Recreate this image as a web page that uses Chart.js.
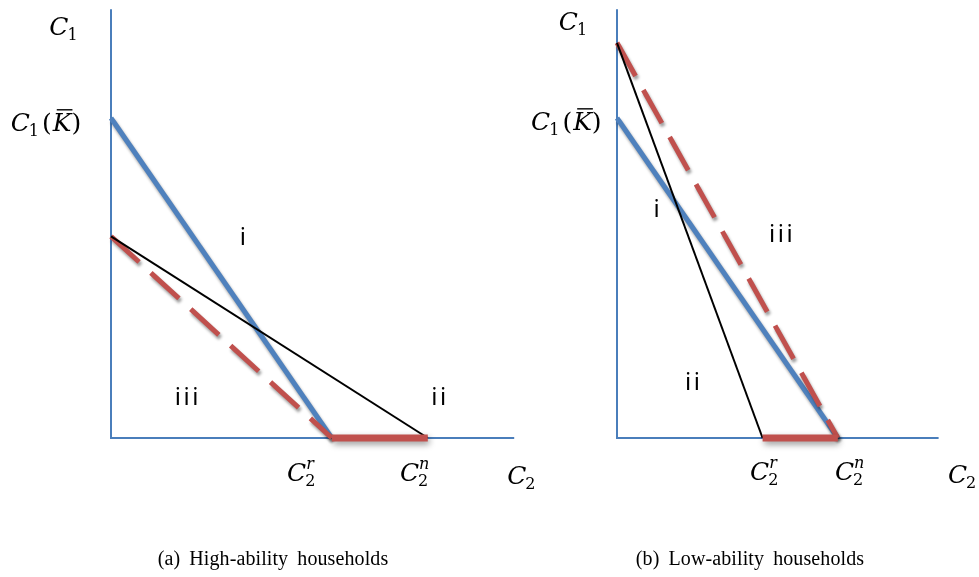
<!DOCTYPE html>
<html><head><meta charset="utf-8">
<script src="https://cdn.jsdelivr.net/npm/chart.js@4/dist/chart.umd.min.js"></script>
<style>
html,body{margin:0;padding:0;background:#fff;}
#wrap{position:relative;width:979px;height:577px;overflow:hidden;background:#fff;}
.pane{position:absolute;top:0;height:577px;}
.cap{position:absolute;top:548px;font-family:"Liberation Serif",serif;font-size:20px;line-height:20px;color:#000;white-space:nowrap;transform:translateX(-50%);word-spacing:4px;letter-spacing:0.1px;}
</style></head>
<body><div id="wrap">
<div class="pane" style="left:0;width:540px"><canvas id="ca" width="540" height="577"></canvas></div>
<div class="pane" style="left:500px;width:479px"><canvas id="cb" width="479" height="577"></canvas></div>
<div class="cap" style="left:273px">(a) High-ability households</div>
<div class="cap" style="left:750px">(b) Low-ability households</div>
</div>
<script>
// ---------- Panel (a): High-ability households ----------
const aAxes   = [{x:0,y:13.4},{x:0,y:0},{x:12.6,y:0}];
const aBlue   = [{x:0,y:10},{x:6.9,y:0}];      // C1(K̄) -> C2^r
const aDashed = [{x:0,y:6.3},{x:6.9,y:0}];
const aBlack  = [{x:0,y:6.3},{x:9.9,y:0}];     // -> C2^n
const aRedBar = [{x:6.9,y:0},{x:9.9,y:0}];     // C2^r .. C2^n

// ---------- Panel (b): Low-ability households ----------
const bAxes   = [{x:0,y:13.4},{x:0,y:0},{x:10.05,y:0}];
const bBlue   = [{x:0,y:10},{x:6.9,y:0}];
const bDashed = [{x:0,y:12.35},{x:6.9,y:0}];   // -> C2^n
const bBlack  = [{x:0,y:12.35},{x:4.55,y:0}];  // -> C2^r
const bRedBar = [{x:4.55,y:0},{x:6.9,y:0}];

// ---------- Label texts ----------
const LBL_C1  = [{t:'C',it:1},{sub:'1'}];
const LBL_C1K = [{t:'C',it:1},{sub:'1'},{t:'('},{t:'K',it:1,bar:1},{t:')'}];
const LBL_C2R = [{t:'C',it:1},{sub:'2',sup:'r'}];
const LBL_C2N = [{t:'C',it:1},{sub:'2',sup:'n'}];
const LBL_C2  = [{t:'C',it:1},{sub:'2'}];
const regionNames = ['i','ii','iii'];

const BLUE='#4F81BD', RED='#C0504D', AXIS='#4A7EBB';
const MAIN='italic 25px "DejaVu Serif"', UP='25px "DejaVu Serif"', SUB='16px "DejaVu Serif"', SUPI='italic 16px "DejaVu Serif"';

function layoutParts(ctx, parts){
  let w=0; const out=[];
  for(const p of parts){
    if(p.t){ ctx.font=p.it?MAIN:UP; const pw=ctx.measureText(p.t).width; out.push({p,dx:w,w:pw}); w+=pw+(p.it?0:1); }
    else { ctx.font=SUB; const sw=p.sub?ctx.measureText(p.sub).width:0; ctx.font=SUPI; const uw=p.sup?ctx.measureText(p.sup).width:0;
      out.push({p,dx:w-1}); w+=Math.max(sw,uw)+2; }
  }
  return {out,w};
}
function drawMath(ctx, parts, x, y, align){
  const L=layoutParts(ctx, parts);
  const x0 = align==='right' ? x-L.w : x;
  ctx.fillStyle='#000'; ctx.strokeStyle='#000'; ctx.textBaseline='alphabetic'; ctx.textAlign='left';
  for(const o of L.out){
    const p=o.p;
    if(p.t){ ctx.font=p.it?MAIN:UP; ctx.fillText(p.t, x0+o.dx, y);
      if(p.bar){ ctx.lineWidth=1.4; ctx.beginPath(); ctx.moveTo(x0+o.dx+4, y-21); ctx.lineTo(x0+o.dx+o.w+1, y-21); ctx.stroke(); } }
    else { if(p.sub){ ctx.font=SUB; ctx.fillText(p.sub, x0+o.dx, y+5); }
      if(p.sup){ ctx.font=SUPI; ctx.fillText(p.sup, x0+o.dx+1, y-12); } }
  }
}
const labelPlugin = {
  id:'mathLabels',
  afterDatasetsDraw(chart, args, opts){
    const ctx=chart.ctx, xs=chart.scales.x, ys=chart.scales.y;
    ctx.save();
    for(const it of (opts.math||[])) drawMath(ctx, it.parts, xs.getPixelForValue(it.x), ys.getPixelForValue(it.y), it.align);
    ctx.font='24px "Noto Sans"'; ctx.fillStyle='#000'; ctx.textAlign='center'; ctx.textBaseline='alphabetic';
    try{ ctx.letterSpacing='2.5px'; }catch(e){}
    for(const r of (opts.regions||[])) ctx.fillText(r.text, xs.getPixelForValue(r.x), ys.getPixelForValue(r.y));
    ctx.restore();
  }
};
const shadowPlugin = {
  id:'shadowPl',
  beforeDatasetDraw(chart,args){ const ds=chart.data.datasets[args.index]; const c=chart.ctx; c.save();
    if(ds.shadow){ c.shadowColor='rgba(0,0,0,0.4)'; c.shadowBlur=ds.shadow; c.shadowOffsetX=1.5; c.shadowOffsetY=3; } },
  afterDatasetDraw(chart){ chart.ctx.restore(); }
};

function makeChart(id, S, xMax, pad, math, regions){
  const base={showLine:true,pointRadius:0,pointHoverRadius:0,fill:false,tension:0,borderCapStyle:'butt',borderJoinStyle:'miter',clip:false};
  return new Chart(document.getElementById(id),{
    type:'scatter',
    data:{datasets:[
      {data:S.red, borderColor:RED, borderWidth:7, shadow:6},
      {data:S.black, borderColor:'#000', borderWidth:2},
      {data:S.dashed, borderColor:RED, borderWidth:5, borderDash:[38,16], shadow:3},
      {data:S.blue, borderColor:BLUE, borderWidth:5, shadow:3},
      {data:S.axes, borderColor:AXIS, borderWidth:2}
    ].map(d=>Object.assign({},base,d))},
    options:{
      responsive:false, animation:false, events:[],
      layout:{padding:pad},
      plugins:{legend:{display:false}, tooltip:{enabled:false}, mathLabels:{math, regions}},
      scales:{x:{type:'linear',min:0,max:xMax,display:false}, y:{type:'linear',min:0,max:13.4,display:false}}
    },
    plugins:[shadowPlugin, labelPlugin]
  });
}

makeChart('ca', {axes:aAxes, blue:aBlue, dashed:aDashed, black:aBlack, red:aRedBar}, 12.6,
  {left:111, right:25.8, top:9.2, bottom:139},
  [ {parts:LBL_C1, x:-0.95, y:12.6, align:'right'},
    {parts:LBL_C1K, x:-0.9, y:9.6, align:'right'},
    {parts:LBL_C2R, x:5.5, y:-1.34},
    {parts:LBL_C2N, x:9.03, y:-1.34},
    {parts:LBL_C2, x:12.38, y:-1.44} ],
  [ {text:regionNames[0], x:4.16, y:6.03},
    {text:regionNames[2], x:2.4, y:1.03},
    {text:regionNames[1], x:10.28, y:1.03} ]);

makeChart('cb', {axes:bAxes, blue:bBlue, dashed:bDashed, black:bBlack, red:bRedBar}, 10.1,
  {left:117, right:38.8, top:9.2, bottom:139},
  [ {parts:LBL_C1, x:-0.84, y:12.75, align:'right'},
    {parts:LBL_C1K, x:-0.45, y:9.63, align:'right'},
    {parts:LBL_C2R, x:4.16, y:-1.31},
    {parts:LBL_C2N, x:6.81, y:-1.31},
    {parts:LBL_C2, x:10.34, y:-1.41} ],
  [ {text:regionNames[0], x:1.28, y:6.9},
    {text:regionNames[2], x:5.16, y:6.125},
    {text:regionNames[1], x:2.4, y:1.5} ]);
</script>
</body></html>
